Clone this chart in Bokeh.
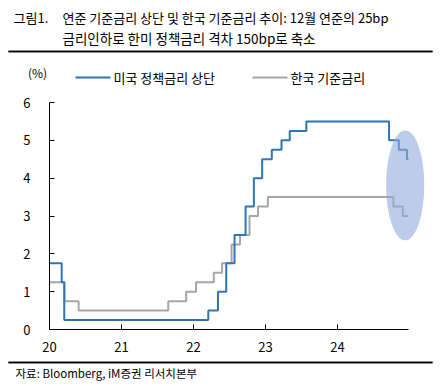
import pandas as pd
from bokeh.plotting import figure
from bokeh.models import Range1d, FixedTicker, ColumnDataSource, LinearAxis, BoxAnnotation
from bokeh.core.properties import value
from bokeh.embed import file_html
from bokeh.resources import INLINE

# ---- data ----
us_dates = ["2020-01-01", "2020-03-03", "2020-03-16", "2022-03-17", "2022-05-05", "2022-06-16",
            "2022-07-28", "2022-09-22", "2022-11-03", "2022-12-15", "2023-02-02", "2023-03-23",
            "2023-05-04", "2023-07-27", "2024-09-19", "2024-11-08", "2024-12-19", "2024-12-27"]
us_rates = [1.75, 1.25, 0.25, 0.5, 1.0, 1.75, 2.5, 3.25, 4.0, 4.5, 4.75, 5.0, 5.25, 5.5, 5.0, 4.75, 4.5, 4.5]

kr_dates = ["2020-01-01", "2020-03-17", "2020-05-28", "2021-08-26", "2021-11-25", "2022-01-14",
            "2022-04-14", "2022-05-26", "2022-07-13", "2022-08-25", "2022-10-12", "2022-11-24",
            "2023-01-13", "2024-10-11", "2024-11-28", "2024-12-27"]
kr_rates = [1.25, 0.75, 0.5, 0.75, 1.0, 1.25, 1.5, 1.75, 2.25, 2.5, 3.0, 3.25, 3.5, 3.25, 3.0, 3.0]

year_ticks = [2020, 2021, 2022, 2023, 2024]
year_labels = ["20", "21", "22", "23", "24"]
y_ticks = [0, 1, 2, 3, 4, 5, 6]

series_names = ["미국 정책금리 상단", "한국 기준금리"]
title_num = "그림1."
title_line1 = "연준 기준금리 상단 및 한국 기준금리 추이: 12월 연준의 25bp"
title_line2 = "금리인하로 한미 정책금리 격차 150bp로 축소"
unit_text = "(%)"
source_text = "자료: Bloomberg, iM증권 리서치본부"

FONT = "Noto Sans CJK KR"
BLUE = "#2e75b6"
GREY = "#a6a6a6"


def to_year(dates):
    d = pd.to_datetime(pd.Series(dates))
    days = d.dt.is_leap_year.map({True: 366, False: 365})
    return (d.dt.year + (d.dt.dayofyear - 1) / days).tolist()


W, H = 442, 386
X0, PX_YEAR = 49, 72.0        # pixel of 2020 and pixels per year
Y0, PX_UNIT = 329, 37.833     # pixel of 0% and pixels per 1%p


def dx(px):  # page pixel -> x data
    return 2020 + (px - X0) / PX_YEAR


def dy(py):  # page pixel -> y data
    return (Y0 - py) / PX_UNIT


p = figure(width=W, height=H,
           x_range=Range1d(dx(0), dx(W)), y_range=Range1d(dy(H), dy(0)),
           x_axis_type=None, y_axis_type=None,
           output_backend="svg", toolbar_location=None, min_border=0)
p.grid.visible = False
p.outline_line_color = None
p.extra_x_ranges = {"px": Range1d(0, W)}
p.extra_y_ranges = {"px": Range1d(H, 0)}

# ---- horizontal rules (header / footer) ----
for ry in (51, 362):
    p.add_layout(BoxAnnotation(left=dx(8), right=dx(432), top=dy(ry - 0.75), bottom=dy(ry + 0.75),
                               fill_color="#000000", fill_alpha=1.0, line_color=None,
                               level="underlay"))
p.segment(x0=[dx(8), dx(8)], y0=[dy(51), dy(362)], x1=[dx(432), dx(432)], y1=[dy(51), dy(362)],
          line_color="#000000", line_width=1.5)

# ---- series ----
us_src = ColumnDataSource(dict(x=to_year(us_dates), y=us_rates))
kr_src = ColumnDataSource(dict(x=to_year(kr_dates), y=kr_rates))
p.step("x", "y", source=kr_src, mode="after", line_color=GREY, line_width=2)
p.step("x", "y", source=us_src, mode="after", line_color=BLUE, line_width=2)

p.ellipse(x=[2024.94], y=[3.81], width=[0.53], height=[2.91],
          fill_color="#8faadc", fill_alpha=0.6, line_color=None)

# ---- axes ----
xaxis = LinearAxis(fixed_location=0, ticker=FixedTicker(ticks=year_ticks),
                   major_label_overrides={t: l for t, l in zip(year_ticks, year_labels)},
                   bounds=(2020, 2024.98), major_label_standoff=12)
yaxis = LinearAxis(fixed_location=2020, ticker=FixedTicker(ticks=y_ticks),
                   bounds=(0, 6), major_label_standoff=19)
for ax in (xaxis, yaxis):
    ax.major_tick_in = 5
    ax.major_tick_out = 0
    ax.minor_tick_in = 0
    ax.minor_tick_out = 0
    ax.axis_line_color = "#000000"
    ax.major_tick_line_color = "#000000"
    ax.major_label_text_font = FONT
    ax.major_label_text_font_size = "13px"
    ax.major_label_text_color = "#000000"
p.add_layout(xaxis, "below")
p.add_layout(yaxis, "left")

# ---- header, legend, footer texts (pixel coordinates) ----
px = dict(x_range_name="px", y_range_name="px")
p.text(x=[13, 62], y=[17, 17], text=[title_num, title_line1],
       text_font=value(FONT), text_font_size="13px", text_color="#000000",
       text_baseline="middle", text_align="left", **px)
p.text(x=[62], y=[37], text=[title_line2],
       text_font=value(FONT), text_font_size="13.5px", text_color="#000000",
       text_baseline="middle", text_align="left", **px)
p.text(x=[37], y=[72], text=[unit_text], text_font=value(FONT), text_font_size="12px",
       text_color="#000000", text_baseline="middle", text_align="center", **px)
p.segment(x0=[75, 252], y0=[77, 77], x1=[110, 287], y1=[77, 77],
          line_color=[BLUE, GREY], line_width=2, **px)
p.text(x=[113, 290], y=[77, 77], text=series_names, text_font=value(FONT),
       text_font_size="13px", text_color="#000000", text_baseline="middle",
       text_align="left", **px)
p.text(x=[15], y=[372], text=[source_text], text_font=value(FONT), text_font_size="11.5px",
       text_color="#000000", text_baseline="middle", text_align="left", **px)

open("out.html", "w").write(file_html(p, INLINE))
